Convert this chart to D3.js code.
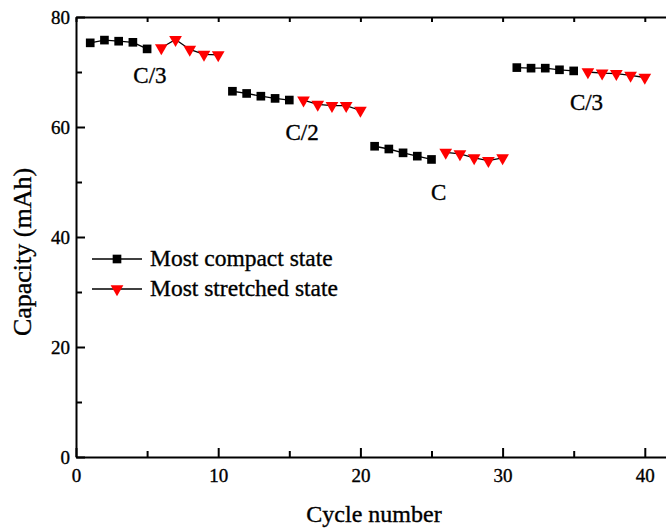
<!DOCTYPE html>
<html>
<head>
<meta charset="utf-8">
<script src="https://cdn.jsdelivr.net/npm/d3@7"></script>
<style>
  body { margin: 0; background: #fff; }
  svg { display: block; font-family: "Liberation Serif", "Times New Roman", serif; }
  svg text { fill: #000; stroke: #000; stroke-width: 0.35px; }
  .axis path, .axis line { stroke: #000; stroke-width: 2; }
  .axis text { font-family: "Liberation Serif", "Times New Roman", serif; font-size: 19px; }
</style>
</head>
<body>
<svg id="chart" width="666" height="531"></svg>
<script>
// data
const compactCycles = [1, 2, 3, 4, 5, 11, 12, 13, 14, 15, 21, 22, 23, 24, 25, 31, 32, 33, 34, 35];
const compactValues = [75.3, 75.8, 75.6, 75.4, 74.2, 66.5, 66.1, 65.6, 65.2, 64.9, 56.5, 56.0, 55.3, 54.7, 54.1, 70.8, 70.7, 70.7, 70.4, 70.2];
const stretchedCycles = [6, 7, 8, 9, 10, 16, 17, 18, 19, 20, 26, 27, 28, 29, 30, 36, 37, 38, 39, 40];
const stretchedValues = [74.4, 75.9, 74.1, 73.2, 73.1, 64.9, 64.1, 63.9, 63.9, 63.0, 55.4, 55.1, 54.4, 53.9, 54.4, 70.0, 69.8, 69.7, 69.4, 69.0];
const rateLabels = ["C/3", "C/2", "C", "C/3"];
const rateLabelPos = [[5.2, 68.0], [15.9, 57.6], [25.5, 46.7], [35.9, 63.1]];
const xTicks = [0, 10, 20, 30, 40];
const yTicks = [0, 20, 40, 60, 80];
const seriesNames = ["Most compact state", "Most stretched state"];

const svg = d3.select("#chart");
const margin = { top: 17, left: 76, bottom: 74 };
const height = +svg.attr("height") - margin.top - margin.bottom;

const x = d3.scaleLinear().domain([0, 42]).range([0, 42 * 14.22]);
const y = d3.scaleLinear().domain([0, 80]).range([height, 0]);

const g = svg.append("g").attr("transform", "translate(" + margin.left + "," + margin.top + ")");

// axes, ticks pointing inward
g.append("g").attr("class", "axis")
    .attr("transform", "translate(0," + height + ")")
    .call(d3.axisBottom(x).tickValues(d3.range(0, 42, 5)).tickSizeInner(-8).tickSizeOuter(0).tickFormat(""))
    .call(a => a.selectAll(".tick line").attr("y2", d => d % 10 === 0 ? -9 : -6));
g.append("g").attr("class", "axis")
    .attr("transform", "translate(0," + height + ")")
    .call(d3.axisBottom(x).tickValues(xTicks).tickSize(0).tickPadding(12))
    .call(a => a.select(".domain").remove());
g.append("g").attr("class", "axis")
    .call(d3.axisTop(x).tickValues(d3.range(0, 42, 5)).tickSizeInner(-5).tickSizeOuter(0).tickFormat(""))
    .call(a => a.selectAll(".tick line").attr("stroke-width", 1));
g.append("g").attr("class", "axis")
    .call(d3.axisLeft(y).tickValues(d3.range(0, 81, 10)).tickSizeInner(-8).tickSizeOuter(0).tickFormat(""))
    .call(a => a.selectAll(".tick line").attr("x2", d => d % 20 === 0 ? 9 : 6));
g.append("g").attr("class", "axis")
    .call(d3.axisLeft(y).tickValues(yTicks).tickSize(0).tickPadding(6))
    .call(a => a.select(".domain").remove());

// series
function runs(cycles, values) {
    const out = [];
    cycles.forEach((c, i) => {
        if (i === 0 || c - cycles[i - 1] !== 1) out.push([]);
        out[out.length - 1].push([c, values[i]]);
    });
    return out;
}
const line = d3.line().x(d => x(d[0])).y(d => y(d[1]));
const square = d3.symbol().type(d3.symbolSquare).size(75);
const tri = d3.symbol().type(d3.symbolTriangle).size(70);

[[compactCycles, compactValues, square, "#000", 0], [stretchedCycles, stretchedValues, tri, "#ff0000", 180]]
  .forEach(([cyc, val, sym, col, rot]) => {
    runs(cyc, val).forEach(seg => {
        g.append("path").datum(seg).attr("d", line)
            .attr("fill", "none").attr("stroke", "#000").attr("stroke-width", 1.3);
    });
    g.selectAll(null).data(cyc.map((c, i) => [c, val[i]])).enter().append("path")
        .attr("d", sym).attr("fill", col)
        .attr("transform", d => "translate(" + x(d[0]) + "," + y(d[1]) + ") rotate(" + rot + ")");
  });

// rate labels
g.selectAll(".rate").data(rateLabels).enter().append("text")
    .attr("class", "rate")
    .attr("x", (d, i) => x(rateLabelPos[i][0]))
    .attr("y", (d, i) => y(rateLabelPos[i][1]))
    .attr("text-anchor", "middle").attr("font-size", 23).text(d => d);

// legend
const leg = g.append("g").attr("transform", "translate(16,242)");
seriesNames.forEach((name, i) => {
    const row = leg.append("g").attr("transform", "translate(0," + (i * 30) + ")");
    row.append("line").attr("x1", 0).attr("x2", 50).attr("stroke", "#000").attr("stroke-width", 1.3);
    row.append("path").attr("d", i === 0 ? square : tri).attr("fill", i === 0 ? "#000" : "#ff0000")
        .attr("transform", "translate(25,0) rotate(" + (i === 0 ? 0 : 180) + ")");
    row.append("text").attr("x", 58).attr("y", 7).attr("font-size", 23.5).text(name);
});

// axis titles
svg.append("text").attr("x", 374).attr("y", 522).attr("text-anchor", "middle")
    .attr("font-size", 24).text("Cycle number");
svg.append("text").attr("transform", "translate(31,252) rotate(-90)").attr("text-anchor", "middle")
    .attr("font-size", 26).text("Capacity (mAh)");
</script>
</body>
</html>
